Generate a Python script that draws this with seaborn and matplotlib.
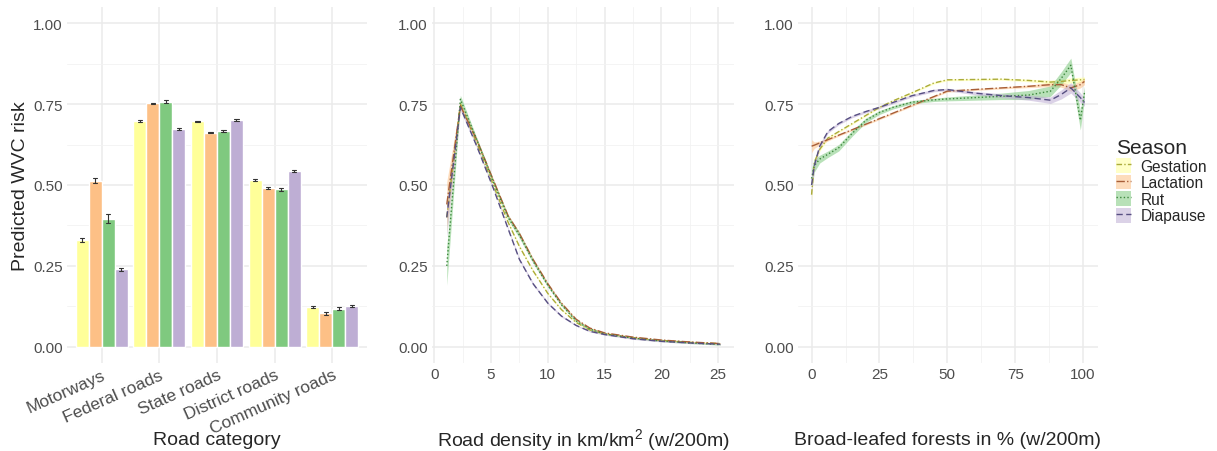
import numpy as np
import pandas as pd
import seaborn as sns
import matplotlib.pyplot as plt
from matplotlib.patches import Patch
from matplotlib.lines import Line2D
from matplotlib.ticker import MultipleLocator

# ---------------- data ----------------
seasons = ["Gestation", "Lactation", "Rut", "Diapause"]
fill_colors = ["#FFFF99", "#FDC086", "#7FC97F", "#BEAED4"]
line_colors = ["#ABAB3A", "#A85E38", "#3C873C", "#574F82"]
dash_styles = [(4, 1.6, 1, 1.6), (6, 1.6, 1, 1.6), (1, 1.6), (4.5, 2.5)]

categories = ["Motorways", "Federal roads", "State roads", "District roads", "Community roads"]
bar_gestation = [0.329, 0.699, 0.697, 0.514, 0.124]
bar_lactation = [0.513, 0.752, 0.662, 0.492, 0.103]
bar_rut = [0.396, 0.757, 0.667, 0.487, 0.118]
bar_diapause = [0.239, 0.673, 0.701, 0.543, 0.126]
err_gestation = [0.006, 0.003, 0.002, 0.003, 0.003]
err_lactation = [0.008, 0.002, 0.002, 0.003, 0.004]
err_rut = [0.013, 0.005, 0.004, 0.004, 0.004]
err_diapause = [0.004, 0.003, 0.002, 0.003, 0.004]

# Road density panel
dens_x = [1.1, 2.3, 3.8, 5.2, 6.5, 7.5, 8.7, 10, 11.2, 12.5, 13.7, 15, 17.5, 20, 22.5, 25.2]
dens_gestation = [0.40, 0.75, 0.625, 0.50, 0.385, 0.31, 0.235, 0.165, 0.115, 0.075, 0.052, 0.040, 0.028, 0.020, 0.014, 0.010]
dens_lactation = [0.44, 0.745, 0.635, 0.515, 0.405, 0.35, 0.27, 0.195, 0.135, 0.085, 0.058, 0.043, 0.030, 0.021, 0.015, 0.010]
dens_rut = [0.25, 0.765, 0.635, 0.51, 0.40, 0.345, 0.265, 0.19, 0.13, 0.08, 0.055, 0.040, 0.027, 0.018, 0.012, 0.007]
dens_diapause = [0.40, 0.74, 0.615, 0.49, 0.365, 0.27, 0.195, 0.135, 0.095, 0.066, 0.048, 0.038, 0.025, 0.017, 0.012, 0.008]
dens_err_gestation = [0.05, 0.01, 0.005, 0.004, 0.004, 0.004, 0.004, 0.003, 0.003, 0.002, 0.002, 0.002, 0.002, 0.002, 0.002, 0.002]
dens_err_lactation = [0.07, 0.01, 0.005, 0.004, 0.004, 0.004, 0.004, 0.003, 0.003, 0.002, 0.002, 0.002, 0.002, 0.002, 0.002, 0.002]
dens_err_rut = [0.06, 0.012, 0.006, 0.007, 0.008, 0.009, 0.007, 0.005, 0.004, 0.003, 0.002, 0.002, 0.002, 0.002, 0.002, 0.002]
dens_err_diapause = [0.06, 0.01, 0.005, 0.004, 0.004, 0.004, 0.004, 0.003, 0.003, 0.002, 0.002, 0.002, 0.002, 0.002, 0.002, 0.002]

# Broad-leafed forest panel
for_x = [0, 1, 3, 6, 10, 15, 20, 25, 30, 37, 45, 50, 60, 70, 80, 88, 92, 95.5, 99, 100.5]
for_gestation = [0.47, 0.57, 0.61, 0.645, 0.665, 0.69, 0.715, 0.74, 0.76, 0.785, 0.815, 0.825, 0.826, 0.827, 0.823, 0.818, 0.82, 0.823, 0.825, 0.826]
for_lactation = [0.62, 0.623, 0.63, 0.64, 0.654, 0.671, 0.688, 0.705, 0.722, 0.746, 0.773, 0.79, 0.795, 0.80, 0.805, 0.81, 0.81, 0.80, 0.81, 0.82]
for_rut = [0.52, 0.56, 0.58, 0.595, 0.615, 0.66, 0.70, 0.724, 0.74, 0.756, 0.763, 0.766, 0.77, 0.774, 0.778, 0.79, 0.83, 0.87, 0.70, 0.785]
for_diapause = [0.50, 0.56, 0.62, 0.665, 0.69, 0.712, 0.727, 0.74, 0.755, 0.776, 0.792, 0.795, 0.784, 0.776, 0.77, 0.762, 0.78, 0.80, 0.77, 0.755]
for_err_gestation = [0.02, 0.01, 0.006, 0.004, 0.003, 0.003, 0.003, 0.003, 0.003, 0.003, 0.003, 0.003, 0.003, 0.003, 0.004, 0.006, 0.007, 0.008, 0.008, 0.008]
for_err_lactation = [0.02, 0.01, 0.006, 0.004, 0.003, 0.003, 0.003, 0.003, 0.003, 0.003, 0.003, 0.003, 0.003, 0.003, 0.004, 0.006, 0.008, 0.01, 0.01, 0.01]
for_err_rut = [0.03, 0.02, 0.012, 0.01, 0.01, 0.009, 0.007, 0.006, 0.005, 0.005, 0.005, 0.006, 0.008, 0.01, 0.014, 0.016, 0.02, 0.022, 0.03, 0.02]
for_err_diapause = [0.03, 0.015, 0.008, 0.005, 0.004, 0.004, 0.004, 0.004, 0.004, 0.004, 0.004, 0.004, 0.005, 0.006, 0.008, 0.01, 0.014, 0.016, 0.015, 0.012]

# ---------------- style ----------------
sns.set_theme(style="whitegrid")
plt.rcParams["font.family"] = ["Liberation Sans", "DejaVu Sans"]
plt.rcParams["mathtext.fontset"] = "custom"
plt.rcParams["mathtext.rm"] = "Liberation Sans"
plt.rcParams["mathtext.it"] = "Liberation Sans:italic"

fig = plt.figure(figsize=(12.17, 4.52), dpi=100)
W, H = 1217, 452
def axpos(l, r, t=8, b=364):
    return [l / W, 1 - b / H, (r - l) / W, (b - t) / H]

ax1 = fig.add_axes(axpos(67, 367))
ax2 = fig.add_axes(axpos(432, 734))
ax3 = fig.add_axes(axpos(798, 1098))

def style_axis(ax):
    ax.set_facecolor("white")
    for s in ax.spines.values():
        s.set_visible(False)
    ax.set_ylim(-0.05, 1.05)
    ax.yaxis.set_major_locator(MultipleLocator(0.25))
    ax.yaxis.set_minor_locator(MultipleLocator(0.125))
    ax.set_yticks([0, 0.25, 0.5, 0.75, 1.0])
    ax.set_yticklabels(["0.00", "0.25", "0.50", "0.75", "1.00"])
    ax.grid(True, which="major", color="#EBEBEB", linewidth=1.1)
    ax.grid(True, which="minor", color="#F2F2F2", linewidth=0.6)
    ax.tick_params(axis="both", which="both", length=0, labelsize=11, labelcolor="#4D4D4D", pad=3)
    ax.set_axisbelow(True)

# ---------------- bar panel ----------------
bar_vals = [bar_gestation, bar_lactation, bar_rut, bar_diapause]
bar_errs = [err_gestation, err_lactation, err_rut, err_diapause]
rows = []
for s, vals, errs in zip(seasons, bar_vals, bar_errs):
    for c, v, e in zip(categories, vals, errs):
        for val in (v - e, v, v + e):
            rows.append({"category": c, "season": s, "value": val})
bar_df = pd.DataFrame(rows)

sns.barplot(data=bar_df, x="category", y="value", hue="season", order=categories,
            hue_order=seasons, palette=fill_colors, saturation=1, width=0.9,
            errorbar=("pi", 100), capsize=0.3,
            err_kws={"linewidth": 0.8, "color": "#333333"}, legend=False, ax=ax1)
style_axis(ax1)
ax1.xaxis.grid(True, which="major", color="#EBEBEB", linewidth=1.1)
ax1.set_xlim(-0.6, 4.6)
for lbl in ax1.get_xticklabels():
    lbl.set_rotation(24)
    lbl.set_ha("right")
    lbl.set_rotation_mode("anchor")
    lbl.set_fontsize(12.5)
ax1.set_xlabel("Road category", fontsize=14)
ax1.set_ylabel("Predicted WVC risk", fontsize=14, va="center")
ax1.yaxis.set_label_coords(-0.155, 0.5)

# ---------------- line panels ----------------
def line_panel(ax, x, ys, errs, xlim, major, minor, xlabel):
    rows = []
    for s, y, e, fc in zip(seasons, ys, errs, fill_colors):
        y = np.array(y); e = np.array(e)
        ax.fill_between(x, y - e, y + e, color=fc, alpha=0.55, linewidth=0)
        for xi, yi in zip(x, y):
            rows.append({"x": xi, "y": yi, "season": s})
    df = pd.DataFrame(rows)
    sns.lineplot(data=df, x="x", y="y", hue="season", style="season",
                 hue_order=seasons, style_order=seasons,
                 palette=dict(zip(seasons, line_colors)),
                 dashes=dict(zip(seasons, dash_styles)),
                 estimator=None, sort=False, linewidth=1.0, legend=False, ax=ax)
    style_axis(ax)
    ax.set_xlim(*xlim)
    ax.xaxis.set_major_locator(MultipleLocator(major))
    ax.xaxis.set_minor_locator(MultipleLocator(minor))
    ax.grid(True, which="major", color="#EBEBEB", linewidth=1.1)
    ax.grid(True, which="minor", color="#F2F2F2", linewidth=0.6)
    ax.set_xlabel(xlabel, fontsize=14)
    ax.set_ylabel("")

line_panel(ax2, dens_x, [dens_gestation, dens_lactation, dens_rut, dens_diapause],
           [dens_err_gestation, dens_err_lactation, dens_err_rut, dens_err_diapause],
           (-0.2, 26.4), 5, 2.5, "Road density in km/km$^2$ (w/200m)")
line_panel(ax3, for_x, [for_gestation, for_lactation, for_rut, for_diapause],
           [for_err_gestation, for_err_lactation, for_err_rut, for_err_diapause],
           (-5.0, 105.5), 25, 12.5, "Broad-leafed forests in % (w/200m)")

for ax in (ax1, ax2, ax3):
    ax.xaxis.set_label_coords(0.5, -0.215)
    ax.xaxis.label.set_va("center")

# ---------------- legend ----------------
handles = []
for fc, lc, ds in zip(fill_colors, line_colors, dash_styles):
    p = Patch(facecolor=fc, alpha=0.55, edgecolor="none")
    l = Line2D([], [], color=lc, linewidth=1.0, linestyle=(0, ds))
    handles.append((p, l))
leg = fig.legend(handles, seasons, title="Season", loc="upper left",
                 bbox_to_anchor=(1110 / W, 1 - 133 / H), frameon=False,
                 fontsize=11.2, title_fontsize=15, labelspacing=0.05,
                 handlelength=0.95, handleheight=1.1, handletextpad=0.6,
                 borderaxespad=0)
leg._legend_box.align = "left"

fig.savefig("out.png", dpi=100)
